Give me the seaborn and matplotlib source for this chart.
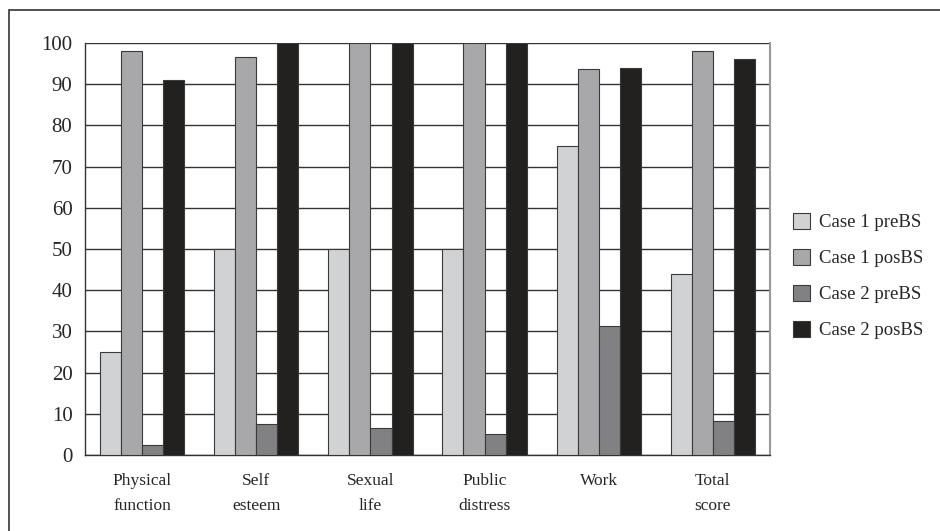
import pandas as pd
import numpy as np
import seaborn as sns
import matplotlib.pyplot as plt
from matplotlib.patches import Rectangle

# Données
domains = ["Physical\nfunction", "Self\nesteem", "Sexual\nlife", "Public\ndistress", "Work", "Total\nscore"]
case1_pre = [25, 50, 50, 50, 75, 44]
case1_pos = [98, 96.5, 100, 100, 93.75, 98]
case2_pre = [2.5, 7.5, 6.5, 5, 31.25, 8.3]
case2_pos = [91, 100, 100, 100, 94, 96]
series = ["Case 1 preBS", "Case 1 posBS", "Case 2 preBS", "Case 2 posBS"]
colors = ["#d1d2d4", "#a7a8ac", "#808185", "#231f20"]

df = pd.DataFrame({
    "domain": domains * 4,
    "serie": np.repeat(series, len(domains)),
    "score": case1_pre + case1_pos + case2_pre + case2_pos,
})

sns.set_style("white")
plt.rcParams["font.family"] = ["Liberation Serif", "DejaVu Serif"]

fig = plt.figure(figsize=(9.4, 5.31), dpi=100)
ax = fig.add_axes([85 / 940, 76 / 531, 685 / 940, 412 / 531])

sns.barplot(data=df, x="domain", y="score", hue="serie", order=domains,
            hue_order=series, palette=colors, width=0.74, edgecolor="#3a3a3a",
            linewidth=0.8, ax=ax, zorder=3)

ax.set_ylim(0, 100)
ax.set_xlim(-0.5, len(domains) - 0.5)
ax.set_yticks(range(0, 101, 10))
ax.yaxis.grid(True, color="#333333", linewidth=1.0, zorder=0)
ax.set_axisbelow(True)
ax.set_xlabel("")
ax.set_ylabel("")

# ticks x entre les catégories
ax.set_xticks(np.arange(-0.5, len(domains), 1.0))
ax.set_xticklabels([])
ax.set_xticks(range(len(domains)), minor=True)
ax.set_xticklabels(domains, minor=True, fontsize=12.5, linespacing=1.75)
ax.tick_params(axis="x", which="major", direction="out", length=6, color="#555555", width=1)
ax.tick_params(axis="x", which="minor", length=0, pad=13)
ax.tick_params(axis="y", direction="out", length=6, color="#333333", width=1, labelsize=15, pad=3)

for s in ["left", "bottom"]:
    ax.spines[s].set_color("#333333")
    ax.spines[s].set_linewidth(1.0)
ax.spines["right"].set_color("#999999")
ax.spines["right"].set_linewidth(1.5)
ax.spines["top"].set_visible(False)

leg = ax.legend(loc="center left", bbox_to_anchor=(1.0, 0.434), frameon=False,
                fontsize=13.5, handlelength=0.9, handleheight=0.9,
                labelspacing=0.95, handletextpad=0.45, borderaxespad=0.85)

# cadre extérieur
fig.patches.append(Rectangle((9 / 940, -0.05), 1.1, 1 - 10 / 531 + 0.05,
                             transform=fig.transFigure, fill=False,
                             edgecolor="#333333", linewidth=1.2))

plt.savefig("out.png", dpi=100)
